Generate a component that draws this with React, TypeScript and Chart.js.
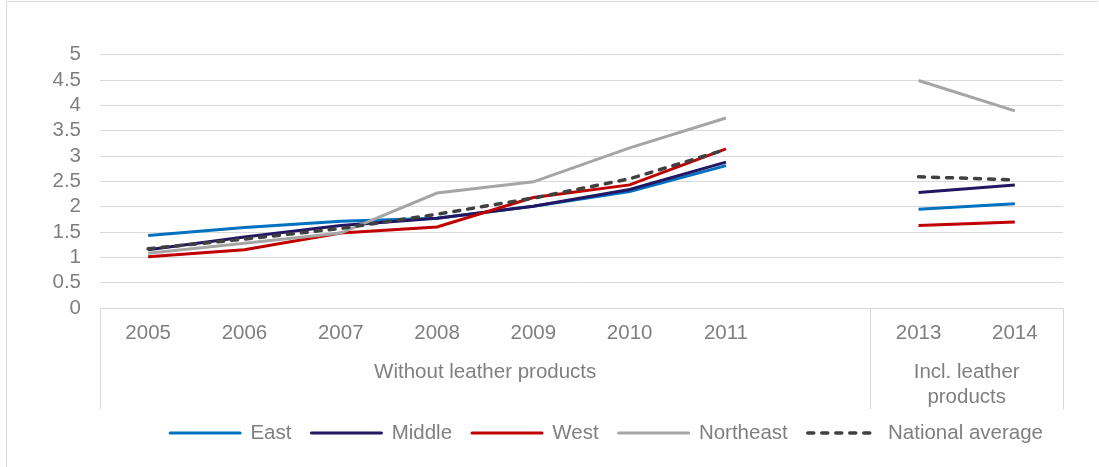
import React, { useEffect, useRef } from "react";
import { Chart, registerables } from "chart.js";

Chart.register(...registerables);

const categories = ["2005", "2006", "2007", "2008", "2009", "2010", "2011", "", "2013", "2014"];
const east = [1.43, 1.59, 1.71, 1.77, 2.01, 2.3, 2.81, null, 1.95, 2.06];
const middle = [1.15, 1.4, 1.63, 1.77, 2.01, 2.34, 2.88, null, 2.28, 2.43];
const west = [1.01, 1.15, 1.48, 1.6, 2.18, 2.43, 3.14, null, 1.63, 1.7];
const northeast = [1.08, 1.28, 1.48, 2.27, 2.49, 3.16, 3.75, null, 4.49, 3.89];
const national = [1.17, 1.36, 1.57, 1.85, 2.17, 2.55, 3.13, null, 2.59, 2.53];
const groupLabels = [["Without leather products"], ["Incl. leather", "products"]];
const groupSizes = [8, 2];

const FONT = "'Liberation Sans', Arial, sans-serif";
const TEXT = "#7f7f7f";
const GRID = "#d9d9d9";
const FS = 20.5;

const groupPlugin = {
  id: "groupAxis",
  afterDraw(chart: any) {
    const x = chart.scales.x;
    const ctx = chart.ctx;
    const top = x.top;
    const bottom = x.top + 101;
    const step = (x.right - x.left) / categories.length;
    const bounds: number[] = [x.left];
    let acc = 0;
    groupSizes.forEach((n) => {
      acc += n;
      bounds.push(x.left + step * acc);
    });
    ctx.save();
    ctx.strokeStyle = GRID;
    ctx.lineWidth = 1;
    bounds.forEach((b) => {
      const px = Math.round(b) + 0.5;
      ctx.beginPath();
      ctx.moveTo(px, top);
      ctx.lineTo(px, bottom);
      ctx.stroke();
    });
    ctx.fillStyle = TEXT;
    ctx.font = `${FS}px ${FONT}`;
    ctx.textAlign = "center";
    ctx.textBaseline = "middle";
    groupLabels.forEach((lines, i) => {
      const cx = (bounds[i] + bounds[i + 1]) / 2;
      lines.forEach((t, j) => {
        ctx.fillText(t, cx, top + 64 + j * 25);
      });
    });
    ctx.restore();
  },
};

export default function App() {
  const ref = useRef<HTMLCanvasElement | null>(null);
  useEffect(() => {
    if (!ref.current) return;
    const chart = new Chart(ref.current, {
      type: "line",
      data: {
        labels: categories,
        datasets: [
          { label: "National average", data: national, borderColor: "#404040", backgroundColor: "#404040", borderWidth: 3.5, borderDash: [6, 8], borderCapStyle: "round" },
          { label: "Northeast", data: northeast, borderColor: "#a5a5a5", backgroundColor: "#a5a5a5", borderWidth: 3 },
          { label: "West", data: west, borderColor: "#c00000", backgroundColor: "#c00000", borderWidth: 3 },
          { label: "Middle", data: middle, borderColor: "#231662", backgroundColor: "#231662", borderWidth: 3 },
          { label: "East", data: east, borderColor: "#0070c0", backgroundColor: "#0070c0", borderWidth: 3 },
        ] as any,
      },
      options: {
        animation: false,
        responsive: false,
        spanGaps: false,
        elements: { point: { radius: 0, hoverRadius: 0 }, line: { tension: 0 } },
        layout: { padding: { left: 0, right: 36, top: 54.7, bottom: 13.75 } },
        plugins: {
          tooltip: { enabled: false },
          legend: {
            position: "bottom",
            align: "end",
            fullSize: false,
            reverse: true,
            labels: {
              usePointStyle: true,
              pointStyle: "line",
              pointStyleWidth: 70,
              padding: 20,
              color: TEXT,
              font: { family: FONT, size: FS },
              generateLabels: (c: any) => {
                const items = (Chart.defaults.plugins.legend.labels as any).generateLabels(c);
                items.forEach((it: any) => {
                  const ds = c.data.datasets[it.datasetIndex];
                  it.lineDash = ds.borderDash || [];
                  it.lineWidth = ds.borderWidth;
                  it.strokeStyle = ds.borderColor;
                  it.lineCap = ds.borderCapStyle || "round";
                  it.pointStyle = "line";
                });
                return items;
              },
            },
          } as any,
        },
        scales: {
          x: {
            offset: true,
            grid: { display: false, drawTicks: false, offset: true },
            border: { display: true, color: GRID, width: 1 },
            ticks: { color: TEXT, font: { family: FONT, size: FS }, padding: 13, maxRotation: 0, autoSkip: false },
            afterFit: (s: any) => {
              s.height = 94.75;
            },
          },
          y: {
            min: 0,
            max: 5,
            grid: { color: GRID, lineWidth: 1, drawTicks: false },
            border: { display: false },
            ticks: {
              stepSize: 0.5,
              autoSkip: false,
              color: TEXT,
              font: { family: FONT, size: FS },
              padding: 19,
              callback: (v: any) => String(Number(v)),
            },
            afterFit: (s: any) => {
              s.width = 100;
            },
          },
        },
      },
      plugins: [groupPlugin],
    });
    return () => chart.destroy();
  }, []);
  return (
    <div>
      <div
        style={{
          position: "absolute",
          left: 6,
          top: 1,
          width: 1092,
          height: 466,
          borderLeft: `1px solid ${GRID}`,
          borderTop: `1px solid ${GRID}`,
          boxSizing: "border-box",
        }}
      />
      <canvas ref={ref} width={1099} height={467} style={{ position: "absolute", left: 0, top: 0 }} />
    </div>
  );
}
